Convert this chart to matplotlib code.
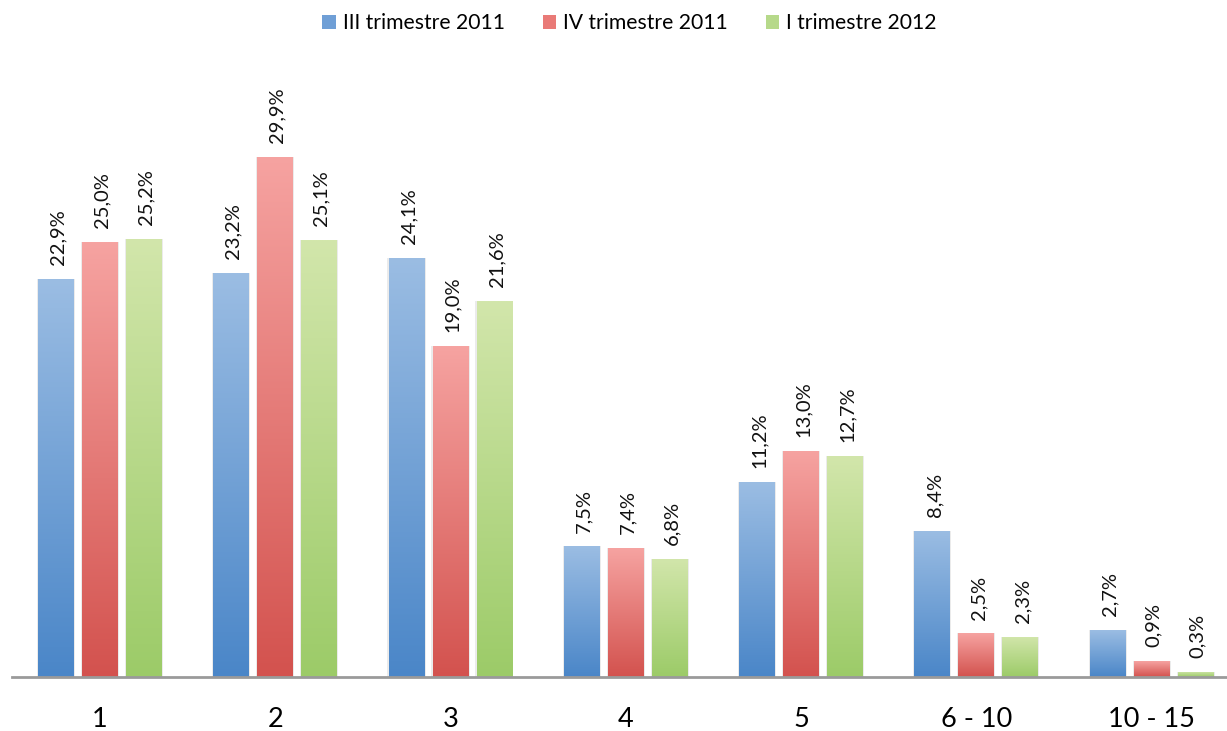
import numpy as np
import matplotlib
matplotlib.use("Agg")
import matplotlib.pyplot as plt
from matplotlib.colors import LinearSegmentedColormap
from matplotlib.patches import Patch

categories = ["1", "2", "3", "4", "5", "6 - 10", "10 - 15"]
series_names = ["III trimestre 2011", "IV trimestre 2011", "I trimestre 2012"]
q3_2011 = [22.9, 23.2, 24.1, 7.5, 11.2, 8.4, 2.7]
q4_2011 = [25.0, 29.9, 19.0, 7.4, 13.0, 2.5, 0.9]
q1_2012 = [25.2, 25.1, 21.6, 6.8, 12.7, 2.3, 0.3]

# (top colour, bottom colour) of each series' vertical gradient
gradients = [("#9BBDE3", "#4A86C8"), ("#F6A3A1", "#D3524E"), ("#D2E6AB", "#9CCB68")]
legend_colors = ["#6F9FD6", "#E97A77", "#B6D98A"]

plt.rcParams["font.family"] = ["Lato", "DejaVu Sans"]

fig = plt.figure(figsize=(12.27, 7.31), dpi=100)
ax = fig.add_axes([0.010, 0.0739, 1.0, 0.845])

n = len(categories)
x = np.arange(n)
width = 0.205
step = 0.251
ymax = 35.5
ax.set_xlim(-0.5, n - 0.5)
ax.set_ylim(0, ymax)

grad = np.linspace(0, 1, 256).reshape(-1, 1)
for k, (vals, (top, bottom)) in enumerate(zip([q3_2011, q4_2011, q1_2012], gradients)):
    cmap = LinearSegmentedColormap.from_list(f"g{k}", [bottom, top])
    offs = (k - 1) * step
    bars = ax.bar(x + offs, vals, width, color="none", edgecolor="none", zorder=2)
    for rect, v in zip(bars, vals):
        bx, bw = rect.get_x(), rect.get_width()
        # soft grey shadow behind the bar
        ax.bar(bx + bw / 2, v, bw + 0.012, color="#000000", alpha=0.08,
               edgecolor="none", zorder=1)
        im = ax.imshow(grad, cmap=cmap, extent=[bx, bx + bw, 0, v],
                       aspect="auto", origin="lower", zorder=2,
                       interpolation="bilinear")
        im.set_clip_path(rect)
        ax.annotate(f"{v:.1f}%".replace(".", ","), (bx + bw / 2, v),
                    xytext=(1.5, 10), textcoords="offset points",
                    rotation=90, ha="center", va="bottom", fontsize=14.5,
                    color="#111111")

ax.set_xticks(x)
ax.set_xticklabels(categories, fontsize=19.5)
ax.tick_params(axis="x", length=0, pad=21.5)
ax.set_yticks([])
for side in ["top", "right", "left"]:
    ax.spines[side].set_visible(False)
ax.spines["bottom"].set_color("#9A9A9A")
ax.spines["bottom"].set_linewidth(2)
ax.spines["bottom"].set_zorder(3)

handles = [Patch(facecolor=c, edgecolor="none") for c in legend_colors]
fig.legend(handles, series_names, loc="center", bbox_to_anchor=(0.513, 0.968),
           ncol=3, frameon=False, fontsize=15.2, handlelength=0.64,
           handleheight=0.64, handletextpad=0.32, columnspacing=1.8)

fig.savefig("out.png", dpi=100)
